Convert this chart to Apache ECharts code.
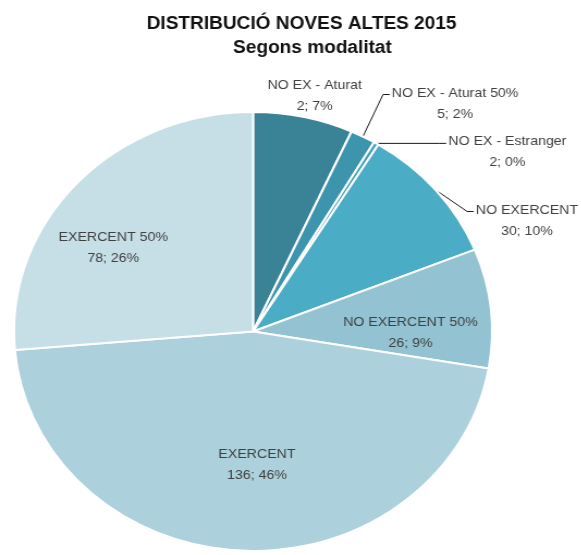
<!DOCTYPE html>
<html>
<head>
<meta charset="utf-8">
<script src="https://cdn.jsdelivr.net/npm/echarts@6/dist/echarts.min.js"></script>
<style>
html,body{margin:0;padding:0;background:#fff;overflow:hidden;}
/* the reference image is stretched horizontally (elliptical pie) */
#chart{width:534px;height:555px;transform:scaleX(1.0888);transform-origin:0 0;}
</style>
</head>
<body>
<div id="chart"></div>
<script>
// Categories (clockwise from 12 o'clock)
const categories = ['NO EX - Aturat', 'NO EX - Aturat 50%', 'NO EX - Estranger', 'NO EXERCENT', 'NO EXERCENT 50%', 'EXERCENT', 'EXERCENT 50%'];
// Slice sizes (angles)
const sliceValues = [20, 5, 1, 30, 26, 136, 78];
// Values printed in the labels
const labelValues = [2, 5, 2, 30, 26, 136, 78];
const titleLine1 = 'DISTRIBUCIÓ NOVES ALTES 2015';
const titleLine2 = 'Segons modalitat';

// Layout (label block centres, in unstretched chart space) and styling
const labelCenters = [[289, 96], [418, 104], [466, 152], [484, 221], [377, 333], [236, 465], [104, 248]];
const outsideLabel = [true, true, true, true, false, false, false];
const showLine = [false, true, true, true, false, false, false];
const colors = ['#3a8296', '#3d95ad', '#43a1ba', '#4bacc6', '#93c3d3', '#acd0dc', '#c6dfe7'];
const LH = 21;

const chart = echarts.init(document.getElementById('chart'), null, {renderer: 'canvas', width: 534, height: 555});
const data = categories.map((n, i) => ({
  name: n,
  value: sliceValues[i],
  itemStyle: {color: colors[i]},
  label: {position: outsideLabel[i] ? 'outside' : 'inside'},
  labelLine: {show: showLine[i]}
}));

chart.setOption({
  animation: false,
  graphic: [
    {type: 'text', x: 277, y: 24, style: {text: titleLine1, fill: '#111', font: 'bold 17.5px "Liberation Sans", Arial, sans-serif', textAlign: 'center', textVerticalAlign: 'middle'}},
    {type: 'text', x: 287, y: 48, style: {text: titleLine2, fill: '#111', font: 'bold 17.5px "Liberation Sans", Arial, sans-serif', textAlign: 'center', textVerticalAlign: 'middle'}}
  ],
  series: [{
    type: 'pie',
    center: [232.4, 331.5],
    radius: 219.5,
    startAngle: 90,
    clockwise: true,
    avoidLabelOverlap: false,
    percentPrecision: 0,
    itemStyle: {borderColor: '#ffffff', borderWidth: 2},
    label: {
      show: true,
      fontFamily: '"Liberation Sans", Arial, sans-serif',
      fontSize: 13,
      lineHeight: LH,
      color: '#404040',
      align: 'center',
      formatter: p => p.name + '\n' + labelValues[p.dataIndex] + '; ' + p.percent + '%'
    },
    labelLine: {show: true, length: 10, length2: 10, lineStyle: {color: '#1a1a1a', width: 1}},
    labelLayout: function (params) {
      const i = params.dataIndex;
      const c = labelCenters[i];
      const res = {x: c[0], y: c[1], align: 'center', verticalAlign: 'middle'};
      if (showLine[i] && params.labelLinePoints) {
        const w = params.labelRect.width, h = params.labelRect.height;
        const left = c[0] - w / 2, top = c[1] - h / 2;
        const start = params.labelLinePoints[0];
        const endY = (i === 2) ? start[1] : top + LH / 2 + 1;
        const end = [left - 2, endY];
        const elbow = [end[0] - 6, endY];
        res.labelLinePoints = [start, elbow, end];
      }
      return res;
    },
    emphasis: {disabled: true},
    data: data
  }]
});
</script>
</body>
</html>
